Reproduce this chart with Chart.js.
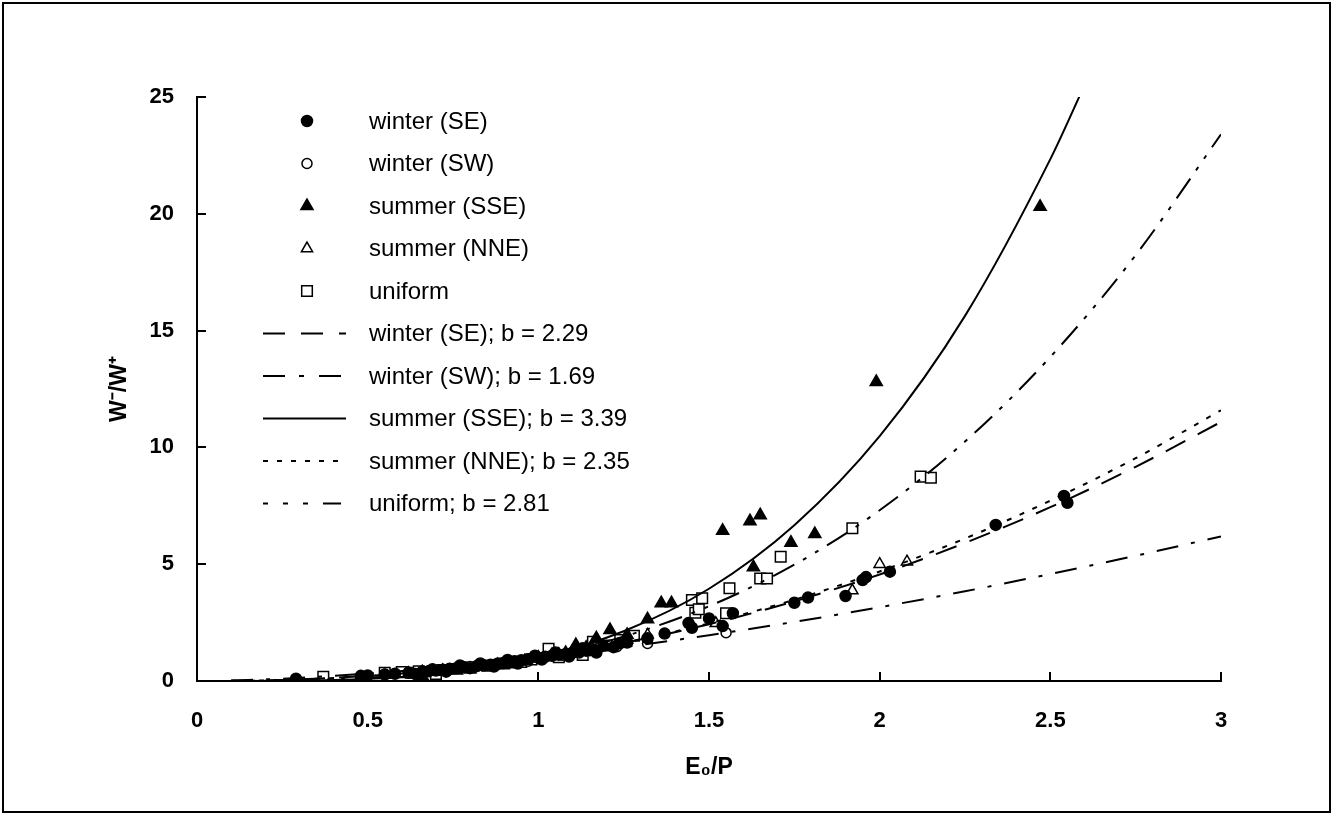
<!DOCTYPE html>
<html>
<head>
<meta charset="utf-8">
<script src="https://cdn.jsdelivr.net/npm/chart.js@4.4.0/dist/chart.umd.min.js"></script>
<style>
  html, body { margin: 0; padding: 0; background: #fff; }
  canvas { display: block; }
</style>
</head>
<body>
<canvas id="chart" width="1336" height="816"></canvas>
<script>
const seX = [0.29,0.48,0.50,0.55,0.58,0.62,0.64,0.66,0.68,0.69,0.70,0.72,0.73,0.74,0.76,0.77,0.78,0.80,0.82,0.83,0.84,0.86,0.87,0.88,0.90,0.91,0.93,0.94,0.95,0.97,0.99,1.00,1.01,1.02,1.04,1.05,1.06,1.08,1.09,1.10,1.12,1.13,1.14,1.16,1.17,1.19,1.22,1.24,1.26,1.32,1.37,1.44,1.45,1.50,1.54,1.57,1.75,1.79,1.90,1.95,1.96,2.03,2.34,2.54,2.55];
const seY = [0.10,0.22,0.24,0.27,0.31,0.36,0.30,0.40,0.42,0.50,0.45,0.48,0.40,0.52,0.55,0.66,0.60,0.55,0.64,0.75,0.67,0.70,0.62,0.74,0.78,0.90,0.85,0.75,0.89,0.93,1.08,1.00,0.92,1.04,1.08,1.22,1.12,1.16,1.05,1.21,1.26,1.40,1.30,1.36,1.22,1.51,1.45,1.62,1.65,1.83,2.03,2.48,2.28,2.68,2.35,2.90,3.35,3.57,3.64,4.32,4.45,4.68,6.68,7.92,7.63];

const swX = [0.55,0.62,0.68,0.75,0.80,0.90,0.97,1.00,1.07,1.12,1.15,1.18,1.23,1.32,1.55];
const swY = [0.30,0.35,0.45,0.52,0.62,0.80,0.85,0.98,1.10,1.20,1.30,1.45,1.47,1.61,2.07];

const sseX = [0.48,0.63,0.66,0.72,0.76,0.80,0.88,0.92,0.96,1.00,1.04,1.08,1.11,1.14,1.17,1.21,1.26,1.32,1.36,1.39,1.54,1.62,1.63,1.65,1.74,1.81,1.99,2.47];
const sseY = [0.12,0.28,0.20,0.40,0.45,0.50,0.68,0.72,0.85,1.00,1.10,1.20,1.54,1.42,1.83,2.18,1.97,2.64,3.33,3.33,6.43,6.84,4.87,7.10,5.92,6.29,12.8,20.3];

const nneX = [0.62,0.66,0.72,0.78,0.84,0.91,0.98,1.06,1.10,1.16,1.26,1.32,1.52,1.92,2.00,2.08];
const nneY = [0.33,0.40,0.45,0.55,0.61,0.80,0.95,1.15,1.30,1.60,1.75,1.97,2.47,3.87,5.00,5.11];

const uniX = [0.37,0.55,0.60,0.65,0.70,0.72,0.80,0.85,0.90,0.95,0.98,1.03,1.06,1.13,1.16,1.20,1.24,1.28,1.45,1.46,1.47,1.48,1.55,1.56,1.65,1.67,1.71,1.92,2.12,2.15];
const uniY = [0.18,0.35,0.38,0.42,0.30,0.47,0.58,0.65,0.75,0.82,0.92,1.38,1.02,1.11,1.68,1.52,1.75,1.94,3.47,2.92,3.07,3.54,2.90,3.97,4.39,4.39,5.32,6.54,8.75,8.70];

const fitX    = [0.1, 0.25, 0.5, 0.75, 1, 1.25, 1.5, 1.75, 2, 2.25, 2.5, 2.75, 3];
const fitSE   = [0.006,0.048,0.219,0.533,1,1.63,2.43,3.41,4.56,5.91,7.44,9.17,11.09];
const fitSW   = [0.022,0.100,0.316,0.620,1,1.45,1.96,2.53,3.16,3.84,4.58,5.36,6.19];
const fitSSEx = [0.1, 0.25, 0.5, 0.75, 1, 1.25, 1.5, 1.75, 2, 2.25, 2.5, 2.6];
const fitSSE  = [0.0004,0.009,0.095,0.377,1,2.13,3.95,6.67,10.48,15.63,22.34,25.5];
const fitNNE  = [0.006,0.045,0.213,0.526,1,1.64,2.47,3.48,4.69,6.10,7.72,9.54,11.59];
const fitUni  = [0.001,0.019,0.137,0.438,1,1.90,3.20,4.98,7.31,10.25,13.87,18.23,23.4];

const xTicks = [0, 0.5, 1, 1.5, 2, 2.5, 3];
const xTickLabels = ['0', '0.5', '1', '1.5', '2', '2.5', '3'];
const yTicks = [0, 5, 10, 15, 20, 25];
const yTickLabels = ['0', '5', '10', '15', '20', '25'];

const pts = (xs, ys) => xs.map((x, i) => ({x: x, y: ys[i]}));
const FONT = "'Liberation Sans', Arial, sans-serif";

function scatterSet(label, xs, ys, style, filled, r) {
  return {
    label: label, data: pts(xs, ys), showLine: false, order: 2,
    pointStyle: style, pointRadius: r, pointHoverRadius: r,
    pointBackgroundColor: filled ? '#000' : '#fff',
    pointBorderColor: '#000', pointBorderWidth: 1.5
  };
}
function fitSet(label, xs, ys, dash, legendDash, legendOffset) {
  return {
    label: label, data: pts(xs, ys), showLine: true, order: 1,
    borderColor: '#000', borderWidth: 2, borderDash: dash,
    legendDash: legendDash || dash, legendOffset: legendOffset || 0,
    pointRadius: 0, cubicInterpolationMode: 'monotone', fill: false
  };
}

// draws a marker like the chart does, for the legend
function marker(ctx, ds, x, y) {
  const r = ds.pointRadius;
  ctx.fillStyle = ds.pointBackgroundColor;
  ctx.strokeStyle = '#000';
  ctx.lineWidth = ds.pointBorderWidth;
  ctx.beginPath();
  if (ds.pointStyle === 'circle') {
    ctx.arc(x, y, r, 0, Math.PI * 2);
  } else if (ds.pointStyle === 'triangle') {
    ctx.moveTo(x, y - r);
    ctx.lineTo(x + r * Math.sin(2 * Math.PI / 3), y - r * Math.cos(2 * Math.PI / 3));
    ctx.lineTo(x + r * Math.sin(4 * Math.PI / 3), y - r * Math.cos(4 * Math.PI / 3));
    ctx.closePath();
  } else {
    const s = Math.SQRT1_2 * r;
    ctx.rect(x - s, y - s, 2 * s, 2 * s);
  }
  ctx.fill();
  ctx.stroke();
}

const extras = {
  id: 'extras',
  afterDraw(chart) {
    const ctx = chart.ctx;
    const a = chart.chartArea;
    const xs = chart.scales.x, ys = chart.scales.y;
    ctx.save();
    ctx.strokeStyle = '#000';
    ctx.lineWidth = 2;
    ctx.beginPath();
    xTicks.forEach(v => {
      const p = Math.round(xs.getPixelForValue(v));
      ctx.moveTo(p, a.bottom); ctx.lineTo(p, a.bottom - 9);
    });
    yTicks.forEach(v => {
      const p = Math.round(ys.getPixelForValue(v));
      ctx.moveTo(a.left, p); ctx.lineTo(a.left + 9, p);
    });
    ctx.stroke();

    // frame round the figure
    ctx.strokeRect(3, 3, 1327, 809);

    // legend inside the plot
    ctx.font = '24px ' + FONT;
    ctx.textBaseline = 'middle';
    chart.data.datasets.forEach((ds, i) => {
      const y = 121 + i * 42.5;
      if (ds.showLine) {
        ctx.strokeStyle = '#000';
        ctx.lineWidth = ds.borderWidth;
        ctx.setLineDash(ds.legendDash);
        ctx.lineDashOffset = ds.legendOffset;
        ctx.beginPath();
        ctx.moveTo(263, y); ctx.lineTo(346, y);
        ctx.stroke();
        ctx.setLineDash([]);
        ctx.lineDashOffset = 0;
      } else {
        marker(ctx, ds, 307, y);
      }
      ctx.fillStyle = '#000';
      ctx.fillText(ds.label, 369, y + 1);
    });
    ctx.restore();
  }
};

const ctx = document.getElementById('chart');
const myChart = new Chart(ctx, {
  type: 'scatter',
  data: {
    datasets: [
      scatterSet('winter (SE)', seX, seY, 'circle', true, 5.5),
      scatterSet('winter (SW)', swX, swY, 'circle', false, 5),
      scatterSet('summer (SSE)', sseX, sseY, 'triangle', true, 7),
      scatterSet('summer (NNE)', nneX, nneY, 'triangle', false, 6.5),
      scatterSet('uniform', uniX, uniY, 'rect', false, 7.5),
      fitSet('winter (SE); b = 2.29', fitX, fitSE, [22, 14], [22, 16]),
      fitSet('winter (SW); b = 1.69', fitX, fitSW, [22, 13, 4, 13], [22, 14, 5, 15]),
      fitSet('summer (SSE); b = 3.39', fitSSEx, fitSSE, []),
      fitSet('summer (NNE); b = 2.35', fitX, fitNNE, [5, 9]),
      fitSet('uniform; b = 2.81', fitX, fitUni, [24, 10, 4, 10, 4, 10], [18, 15, 5, 15, 5, 15], 13)
    ]
  },
  options: {
    responsive: false,
    animation: false,
    devicePixelRatio: 1,
    layout: { padding: { left: 0, top: 97, right: 115, bottom: 0 } },
    plugins: { legend: { display: false }, tooltip: { enabled: false } },
    scales: {
      x: {
        type: 'linear', min: 0, max: 3,
        afterFit(s) { s.height = 135; },
        afterBuildTicks(s) { s.ticks = xTicks.map(v => ({value: v})); },
        grid: { display: false, drawTicks: false },
        border: { display: true, color: '#000', width: 2 },
        ticks: {
          padding: 27, color: '#000', maxRotation: 0,
          font: { family: FONT, size: 22, weight: 'bold' },
          callback: (v) => xTickLabels[xTicks.indexOf(v)]
        },
        title: {
          display: true, text: 'E₀/P', color: '#000',
          font: { family: FONT, size: 23, weight: 'bold' },
          padding: { top: 0, bottom: 35 }
        }
      },
      y: {
        type: 'linear', min: 0, max: 25,
        afterFit(s) { s.width = 197; },
        afterBuildTicks(s) { s.ticks = yTicks.map(v => ({value: v})); },
        grid: { display: false, drawTicks: false },
        border: { display: true, color: '#000', width: 2 },
        ticks: {
          padding: 23, color: '#000',
          font: { family: FONT, size: 22, weight: 'bold' },
          callback: (v) => yTickLabels[yTicks.indexOf(v)]
        },
        title: {
          display: true, text: 'W⁻/W⁺', color: '#000',
          font: { family: FONT, size: 23, weight: 'bold' },
          padding: { top: 106, bottom: 0 }
        }
      }
    }
  },
  plugins: [extras]
});
</script>
</body>
</html>
